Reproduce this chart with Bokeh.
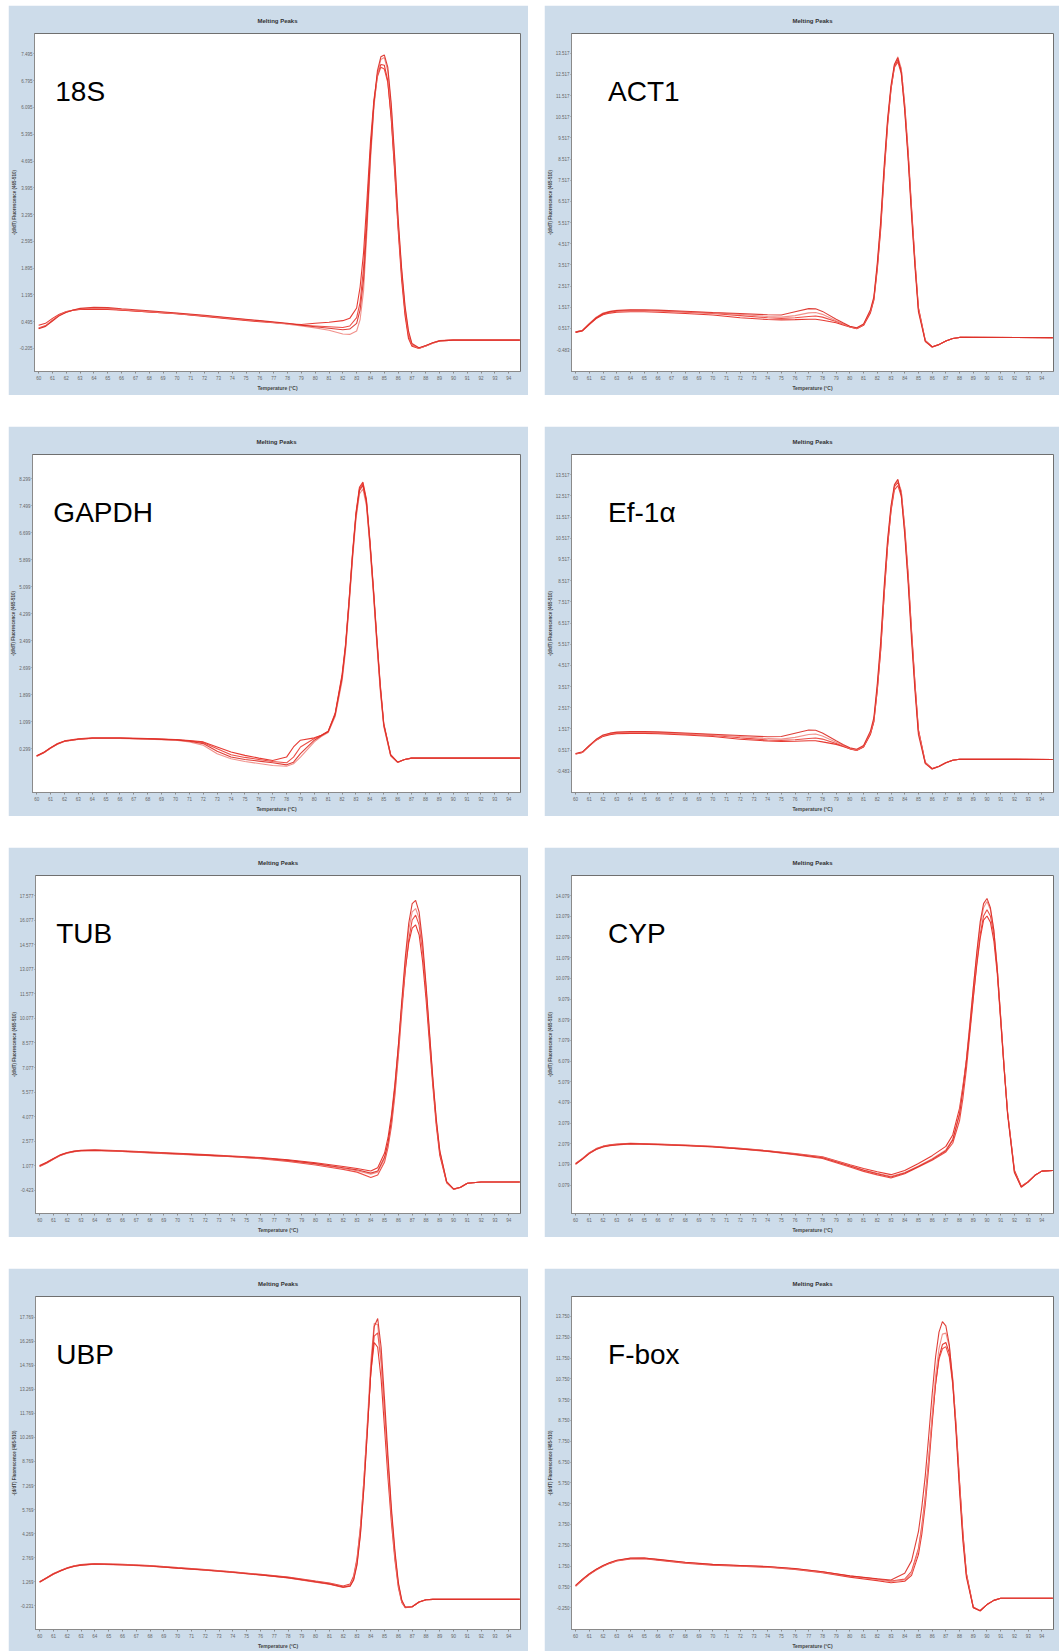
from bokeh.plotting import figure
from bokeh.layouts import column, row
from bokeh.models import FixedTicker, NumeralTickFormatter, Label, Range1d, Spacer
from bokeh.embed import file_html
from bokeh.resources import INLINE

x_ticks = list(range(60, 95))

# ---------------- 18S ----------------
t_18s = [60, 60.5, 61, 61.5, 62, 62.5, 63, 64, 65, 66, 68, 70, 72, 74, 76, 78, 79, 80, 81, 82, 82.5, 83,
         83.25, 83.5, 83.75, 84, 84.25, 84.5, 84.75, 85, 85.25, 85.5, 85.75, 86, 86.25, 86.5, 86.75, 87,
         87.5, 88, 88.5, 89, 90, 94.8]
r1_18s = [0.32, 0.38, 0.52, 0.66, 0.75, 0.80, 0.83, 0.85, 0.84, 0.81, 0.76, 0.71, 0.65, 0.58, 0.51, 0.43, 0.38,
          0.33, 0.27, 0.17, 0.16, 0.25, 0.55, 1.30, 2.90, 4.70, 6.10, 6.95, 7.35, 7.40, 7.05, 6.10, 4.70, 3.10,
          1.85, 0.85, 0.20, -0.10, -0.20, -0.14, -0.07, -0.01, 0.01, 0.01]
r2_18s = [0.40, 0.45, 0.58, 0.69, 0.76, 0.79, 0.81, 0.82, 0.81, 0.79, 0.75, 0.70, 0.63, 0.56, 0.49, 0.44, 0.42,
          0.45, 0.48, 0.52, 0.58, 0.85, 1.40, 2.30, 3.70, 5.20, 6.30, 6.95, 7.22, 7.20, 6.80, 5.80, 4.40, 2.90,
          1.60, 0.65, 0.05, -0.15, -0.21, -0.14, -0.06, 0.00, 0.01, 0.01]
r3_18s = [0.33, 0.39, 0.53, 0.67, 0.74, 0.79, 0.82, 0.84, 0.83, 0.80, 0.75, 0.70, 0.64, 0.57, 0.51, 0.44, 0.40,
          0.38, 0.36, 0.34, 0.38, 0.60, 1.00, 1.90, 3.40, 5.00, 6.20, 6.90, 7.15, 7.10, 6.75, 5.85, 4.50, 3.00,
          1.75, 0.75, 0.12, -0.12, -0.20, -0.14, -0.07, -0.01, 0.01, 0.01]
r4_18s = [0.31, 0.37, 0.51, 0.65, 0.74, 0.80, 0.84, 0.87, 0.86, 0.83, 0.78, 0.72, 0.66, 0.59, 0.52, 0.45, 0.40,
          0.36, 0.32, 0.28, 0.30, 0.45, 0.80, 1.60, 3.10, 4.85, 6.20, 7.05, 7.42, 7.47, 7.15, 6.20, 4.80, 3.20,
          1.90, 0.90, 0.25, -0.08, -0.19, -0.13, -0.06, -0.01, 0.01, 0.01]
yt_18s = [7.495, 6.795, 6.095, 5.395, 4.695, 3.995, 3.295, 2.595, 1.895, 1.195, 0.495, -0.205]

# ---------------- ACT1 ----------------
t_act = [60, 60.5, 61, 61.5, 62, 62.5, 63, 64, 65, 66, 68, 70, 72, 74, 75, 76, 77, 77.5, 78, 79, 79.5, 80,
         80.5, 81, 81.5, 81.75, 82, 82.25, 82.5, 82.75, 83, 83.25, 83.5, 83.75, 84, 84.25, 84.5, 84.75, 85,
         85.5, 86, 86.5, 87, 87.5, 88, 94.8]
r1_act = [0.34, 0.42, 0.73, 1.02, 1.22, 1.31, 1.36, 1.39, 1.40, 1.38, 1.33, 1.27, 1.22, 1.16, 1.15, 1.30, 1.45,
          1.44, 1.32, 0.95, 0.78, 0.62, 0.55, 0.72, 1.40, 2.00, 3.60, 5.60, 8.20, 10.40, 12.00, 13.00, 13.30,
          12.60, 10.80, 8.50, 5.80, 3.40, 1.30, -0.10, -0.36, -0.25, -0.08, 0.04, 0.09, 0.08]
r2_act = [0.33, 0.40, 0.70, 0.98, 1.16, 1.24, 1.28, 1.30, 1.30, 1.28, 1.22, 1.15, 1.02, 0.94, 0.92, 0.93, 0.95,
          0.95, 0.90, 0.78, 0.68, 0.58, 0.50, 0.66, 1.25, 1.85, 3.30, 5.20, 7.80, 10.10, 11.80, 12.90, 13.20,
          12.75, 11.10, 8.90, 6.20, 3.70, 1.50, -0.05, -0.35, -0.24, -0.08, 0.04, 0.09, 0.08]
r3_act = [0.36, 0.43, 0.75, 1.05, 1.24, 1.33, 1.37, 1.38, 1.37, 1.35, 1.30, 1.25, 1.18, 1.08, 1.05, 1.12, 1.25,
          1.27, 1.18, 0.88, 0.74, 0.60, 0.52, 0.70, 1.35, 1.95, 3.50, 5.50, 8.00, 10.30, 11.90, 12.95, 13.35,
          12.80, 11.00, 8.70, 6.00, 3.55, 1.40, -0.08, -0.37, -0.25, -0.08, 0.04, 0.09, 0.08]
r4_act = [0.35, 0.41, 0.72, 1.00, 1.20, 1.29, 1.33, 1.36, 1.36, 1.34, 1.28, 1.22, 1.12, 1.02, 0.99, 1.02, 1.08,
          1.10, 1.05, 0.84, 0.72, 0.59, 0.51, 0.69, 1.30, 1.90, 3.40, 5.35, 7.90, 10.20, 11.85, 12.85, 13.10,
          12.55, 10.90, 8.70, 6.10, 3.60, 1.45, -0.07, -0.36, -0.24, -0.08, 0.04, 0.09, 0.08]
yt_act = [13.517, 12.517, 11.517, 10.517, 9.517, 8.517, 7.517, 6.517, 5.517, 4.517, 3.517, 2.517, 1.517, 0.517, -0.483]

# ---------------- GAPDH ----------------
t_gap = [60, 60.5, 61, 61.5, 62, 63, 64, 66, 68, 70, 71, 72, 73, 74, 75, 76, 77, 78, 78.5, 79, 80, 80.5, 81,
         81.5, 82, 82.25, 82.5, 82.75, 83, 83.25, 83.5, 83.75, 84, 84.25, 84.5, 84.75, 85, 85.5, 86, 86.5, 87,
         88, 94.8]
r1_gap = [0.08, 0.18, 0.32, 0.44, 0.52, 0.58, 0.61, 0.61, 0.59, 0.56, 0.52, 0.45, 0.22, 0.05, -0.02, -0.07, -0.12,
          -0.18, -0.10, 0.15, 0.55, 0.68, 0.80, 1.30, 2.40, 3.30, 4.60, 6.00, 7.20, 7.95, 8.10, 7.60, 6.40, 5.00,
          3.50, 2.10, 1.00, 0.10, -0.10, -0.02, 0.02, 0.02, 0.02]
r2_gap = [0.09, 0.19, 0.33, 0.45, 0.53, 0.59, 0.62, 0.62, 0.60, 0.57, 0.54, 0.50, 0.35, 0.20, 0.10, 0.02, -0.05,
          0.05, 0.35, 0.55, 0.62, 0.70, 0.82, 1.35, 2.50, 3.40, 4.70, 6.10, 7.30, 8.05, 8.20, 7.70, 6.50, 5.10,
          3.60, 2.20, 1.05, 0.12, -0.10, -0.02, 0.02, 0.02, 0.02]
r3_gap = [0.07, 0.17, 0.31, 0.43, 0.51, 0.57, 0.60, 0.60, 0.58, 0.55, 0.50, 0.40, 0.15, 0.00, -0.08, -0.14, -0.20,
          -0.22, -0.15, 0.05, 0.50, 0.66, 0.78, 1.25, 2.30, 3.20, 4.50, 5.90, 7.10, 7.85, 8.00, 7.50, 6.30, 4.90,
          3.40, 2.00, 0.95, 0.08, -0.11, -0.02, 0.02, 0.02, 0.02]
r4_gap = [0.08, 0.18, 0.32, 0.44, 0.52, 0.58, 0.61, 0.61, 0.59, 0.56, 0.53, 0.48, 0.30, 0.12, 0.04, -0.02, -0.08,
          -0.12, 0.05, 0.35, 0.60, 0.69, 0.81, 1.32, 2.45, 3.35, 4.65, 6.05, 7.25, 8.00, 8.15, 7.65, 6.45, 5.05,
          3.55, 2.15, 1.02, 0.11, -0.10, -0.02, 0.02, 0.02, 0.02]
yt_gap = [8.299, 7.499, 6.699, 5.899, 5.099, 4.299, 3.499, 2.699, 1.899, 1.099, 0.299]

# ---------------- Ef-1alpha ----------------
t_ef = t_act
r1_ef = [0.36, 0.44, 0.74, 1.03, 1.23, 1.32, 1.37, 1.40, 1.40, 1.38, 1.33, 1.27, 1.21, 1.15, 1.16, 1.32, 1.47,
         1.46, 1.33, 0.96, 0.79, 0.63, 0.56, 0.74, 1.42, 2.05, 3.65, 5.65, 8.25, 10.45, 12.05, 13.05, 13.30,
         12.55, 10.70, 8.40, 5.70, 3.30, 1.25, -0.12, -0.37, -0.25, -0.08, 0.04, 0.09, 0.08]
r2_ef = [0.34, 0.41, 0.71, 0.99, 1.17, 1.25, 1.29, 1.31, 1.31, 1.29, 1.23, 1.16, 1.03, 0.95, 0.93, 0.94, 0.96,
         0.96, 0.91, 0.79, 0.69, 0.59, 0.51, 0.67, 1.27, 1.87, 3.35, 5.25, 7.85, 10.15, 11.85, 12.95, 13.15,
         12.70, 11.05, 8.85, 6.15, 3.65, 1.48, -0.06, -0.35, -0.24, -0.08, 0.04, 0.09, 0.08]
r3_ef = [0.35, 0.42, 0.73, 1.01, 1.21, 1.30, 1.35, 1.37, 1.37, 1.35, 1.30, 1.24, 1.16, 1.06, 1.04, 1.12, 1.26,
         1.28, 1.19, 0.89, 0.75, 0.61, 0.53, 0.71, 1.36, 1.97, 3.52, 5.52, 8.05, 10.35, 11.95, 12.98, 13.25,
         12.75, 10.95, 8.65, 5.95, 3.50, 1.38, -0.09, -0.37, -0.25, -0.08, 0.04, 0.09, 0.08]
r4_ef = [0.34, 0.41, 0.72, 1.00, 1.19, 1.28, 1.32, 1.35, 1.35, 1.33, 1.27, 1.21, 1.10, 1.00, 0.98, 1.01, 1.07,
         1.09, 1.04, 0.83, 0.71, 0.58, 0.50, 0.68, 1.28, 1.88, 3.38, 5.30, 7.85, 10.15, 11.80, 12.80, 13.00,
         12.50, 10.85, 8.65, 6.05, 3.60, 1.45, -0.07, -0.36, -0.24, -0.08, 0.04, 0.09, 0.08]
yt_ef = yt_act

# ---------------- TUB ----------------
t_tub = [60, 60.5, 61, 61.5, 62, 62.5, 63, 64, 66, 68, 70, 72, 74, 76, 78, 80, 82, 83, 84, 84.5, 85, 85.25, 85.5,
         85.75, 86, 86.25, 86.5, 86.75, 87, 87.25, 87.5, 87.75, 88, 88.25, 88.5, 88.75, 89, 89.5, 90, 90.5, 91,
         92, 94.8]
r1_tub = [1.05, 1.25, 1.50, 1.72, 1.86, 1.95, 2.00, 2.02, 1.96, 1.88, 1.80, 1.72, 1.64, 1.54, 1.40, 1.20, 0.95,
          0.82, 0.62, 0.75, 1.60, 2.50, 3.90, 5.90, 8.40, 11.20, 13.80, 15.90, 17.10, 17.30, 16.60, 14.80, 12.20,
          9.30, 6.40, 3.90, 2.00, 0.10, -0.35, -0.25, 0.00, 0.08, 0.08]
r2_tub = [1.02, 1.22, 1.47, 1.70, 1.84, 1.93, 1.98, 2.00, 1.94, 1.86, 1.78, 1.70, 1.62, 1.50, 1.34, 1.12, 0.85,
          0.68, 0.35, 0.50, 1.30, 2.20, 3.50, 5.40, 7.80, 10.50, 13.00, 14.90, 16.10, 16.40, 15.80, 14.20, 11.80,
          9.00, 6.20, 3.70, 1.90, 0.05, -0.38, -0.26, 0.00, 0.08, 0.08]
r3_tub = [1.08, 1.28, 1.52, 1.74, 1.88, 1.97, 2.02, 2.05, 1.99, 1.91, 1.83, 1.75, 1.67, 1.57, 1.44, 1.25, 1.02,
          0.90, 0.75, 0.95, 1.85, 2.80, 4.20, 6.10, 8.40, 10.90, 13.10, 14.70, 15.60, 15.80, 15.20, 13.60, 11.30,
          8.60, 5.90, 3.50, 1.70, 0.02, -0.36, -0.25, 0.00, 0.08, 0.08]
r4_tub = [1.04, 1.24, 1.49, 1.71, 1.85, 1.94, 1.99, 2.01, 1.95, 1.87, 1.79, 1.71, 1.63, 1.52, 1.38, 1.17, 0.90,
          0.76, 0.55, 0.68, 1.50, 2.40, 3.75, 5.70, 8.10, 10.90, 13.50, 15.50, 16.60, 16.80, 16.20, 14.50, 12.00,
          9.20, 6.30, 3.80, 1.95, 0.08, -0.36, -0.25, 0.00, 0.08, 0.08]
yt_tub = [17.577, 16.077, 14.577, 13.077, 11.577, 10.077, 8.577, 7.077, 5.577, 4.077, 2.577, 1.077, -0.423]

# ---------------- CYP ----------------
t_cyp = [60, 60.5, 61, 61.5, 62, 62.5, 63, 64, 66, 68, 70, 72, 74, 76, 78, 80, 81, 82, 83, 84, 85, 86, 87, 87.5,
         88, 88.25, 88.5, 88.75, 89, 89.25, 89.5, 89.75, 90, 90.25, 90.5, 90.75, 91, 91.25, 91.5, 92, 92.5, 93,
         93.5, 94, 94.8]
r1_cyp = [1.10, 1.35, 1.62, 1.82, 1.94, 2.00, 2.04, 2.09, 2.05, 2.00, 1.94, 1.84, 1.73, 1.58, 1.42, 1.02, 0.82,
          0.65, 0.50, 0.68, 1.00, 1.35, 1.78, 2.30, 3.60, 4.80, 6.20, 7.90, 9.60, 11.20, 12.60, 13.50, 13.80,
          13.40, 12.40, 10.60, 8.20, 5.80, 3.60, 0.70, -0.02, 0.23, 0.55, 0.75, 0.78]
r2_cyp = [1.08, 1.33, 1.60, 1.80, 1.92, 1.98, 2.02, 2.07, 2.03, 1.98, 1.92, 1.82, 1.70, 1.54, 1.36, 0.95, 0.74,
          0.57, 0.42, 0.62, 0.95, 1.28, 1.68, 2.10, 3.20, 4.30, 5.70, 7.40, 9.10, 10.80, 12.20, 13.10, 13.40,
          13.10, 12.20, 10.50, 8.20, 5.80, 3.60, 0.75, 0.00, 0.24, 0.55, 0.75, 0.78]
r3_cyp = [1.12, 1.37, 1.64, 1.84, 1.96, 2.02, 2.06, 2.10, 2.06, 2.01, 1.95, 1.85, 1.74, 1.60, 1.45, 1.06, 0.88,
          0.72, 0.58, 0.78, 1.12, 1.50, 1.95, 2.50, 3.80, 4.90, 6.10, 7.60, 9.20, 10.70, 12.00, 12.90, 13.10,
          12.80, 11.90, 10.30, 8.00, 5.70, 3.60, 0.80, 0.02, 0.24, 0.55, 0.75, 0.78]
r4_cyp = [1.09, 1.34, 1.61, 1.81, 1.93, 1.99, 2.03, 2.08, 2.04, 1.99, 1.93, 1.83, 1.72, 1.57, 1.40, 1.00, 0.79,
          0.62, 0.47, 0.66, 0.98, 1.32, 1.74, 2.25, 3.50, 4.70, 6.10, 7.80, 9.60, 11.30, 12.80, 13.70, 13.95,
          13.50, 12.40, 10.50, 8.10, 5.70, 3.50, 0.68, -0.03, 0.22, 0.55, 0.75, 0.78]
yt_cyp = [14.079, 13.079, 12.079, 11.079, 10.079, 9.079, 8.079, 7.079, 6.079, 5.079, 4.079, 3.079, 2.079, 1.079, 0.079]

# ---------------- UBP ----------------
t_ubp = [60, 60.5, 61, 61.5, 62, 62.5, 63, 64, 66, 68, 70, 72, 74, 76, 78, 80, 81, 82, 82.5, 82.75, 83, 83.25,
         83.5, 83.75, 84, 84.25, 84.5, 84.75, 85, 85.25, 85.5, 85.75, 86, 86.25, 86.5, 87, 87.5, 88, 88.5, 94.8]
r1_ubp = [1.25, 1.50, 1.75, 1.95, 2.12, 2.24, 2.31, 2.38, 2.33, 2.25, 2.12, 2.00, 1.86, 1.70, 1.53, 1.27, 1.15,
          0.95, 1.05, 1.50, 2.60, 4.60, 7.60, 11.20, 15.00, 17.40, 17.30, 15.20, 11.80, 8.40, 5.30, 2.80, 1.00,
          0.00, -0.35, -0.30, 0.00, 0.14, 0.16, 0.16]
r2_ubp = [1.23, 1.48, 1.73, 1.93, 2.10, 2.22, 2.29, 2.36, 2.31, 2.23, 2.10, 1.98, 1.84, 1.68, 1.50, 1.24, 1.10,
          0.90, 0.98, 1.40, 2.40, 4.30, 7.20, 10.70, 14.30, 16.60, 16.80, 15.00, 11.90, 8.60, 5.50, 3.00, 1.10,
          0.05, -0.33, -0.30, 0.00, 0.14, 0.16, 0.16]
r3_ubp = [1.27, 1.52, 1.77, 1.97, 2.14, 2.26, 2.33, 2.40, 2.35, 2.27, 2.14, 2.02, 1.88, 1.72, 1.55, 1.30, 1.18,
          1.00, 1.12, 1.60, 2.70, 4.70, 7.60, 11.00, 14.30, 16.20, 15.90, 13.90, 10.80, 7.70, 4.90, 2.60, 0.90,
          -0.05, -0.36, -0.30, 0.00, 0.14, 0.16, 0.16]
r4_ubp = [1.24, 1.49, 1.74, 1.94, 2.11, 2.23, 2.30, 2.37, 2.32, 2.24, 2.11, 1.99, 1.85, 1.69, 1.52, 1.26, 1.13,
          0.93, 1.00, 1.35, 2.30, 4.20, 7.10, 10.60, 14.40, 17.20, 17.70, 15.90, 12.60, 9.10, 5.80, 3.20, 1.20,
          0.10, -0.32, -0.30, 0.00, 0.14, 0.16, 0.16]
yt_ubp = [17.769, 16.269, 14.769, 13.269, 11.769, 10.269, 8.769, 7.269, 5.769, 4.269, 2.769, 1.269, -0.231]

# ---------------- F-box ----------------
t_fbx = [60, 60.5, 61, 61.5, 62, 62.5, 63, 64, 65, 66, 68, 70, 72, 74, 76, 78, 80, 82, 83, 84, 84.5, 85, 85.25,
         85.5, 85.75, 86, 86.25, 86.5, 86.75, 87, 87.25, 87.5, 87.75, 88, 88.25, 88.5, 89, 89.5, 90, 90.5, 91, 94.8]
r1_fbx = [0.80, 1.10, 1.36, 1.58, 1.76, 1.90, 2.01, 2.11, 2.12, 2.05, 1.91, 1.81, 1.76, 1.71, 1.61, 1.46, 1.26,
          1.10, 1.00, 1.08, 1.40, 2.50, 3.60, 5.00, 6.90, 9.00, 10.90, 12.20, 12.90, 12.95, 12.30, 10.80, 8.40,
          5.60, 3.10, 1.30, -0.25, -0.40, -0.10, 0.10, 0.20, 0.20]
r2_fbx = [0.82, 1.12, 1.38, 1.60, 1.78, 1.92, 2.03, 2.13, 2.14, 2.07, 1.93, 1.83, 1.78, 1.73, 1.63, 1.48, 1.28,
          1.14, 1.08, 1.40, 2.00, 3.40, 4.60, 6.10, 8.00, 10.00, 11.80, 13.00, 13.50, 13.30, 12.40, 10.60, 8.10,
          5.30, 2.90, 1.20, -0.25, -0.40, -0.10, 0.10, 0.20, 0.20]
r3_fbx = [0.78, 1.08, 1.34, 1.56, 1.74, 1.88, 1.99, 2.09, 2.10, 2.03, 1.89, 1.79, 1.74, 1.69, 1.59, 1.43, 1.22,
          1.05, 0.95, 1.02, 1.30, 2.30, 3.30, 4.70, 6.50, 8.60, 10.50, 11.80, 12.40, 12.50, 12.00, 10.70, 8.50,
          5.80, 3.30, 1.40, -0.22, -0.40, -0.10, 0.10, 0.20, 0.20]
r4_fbx = [0.81, 1.11, 1.37, 1.59, 1.77, 1.91, 2.02, 2.12, 2.13, 2.06, 1.92, 1.82, 1.77, 1.72, 1.62, 1.47, 1.27,
          1.12, 1.03, 1.12, 1.50, 2.60, 3.70, 5.10, 6.90, 8.80, 10.50, 11.70, 12.20, 12.30, 11.80, 10.50, 8.30,
          5.70, 3.20, 1.35, -0.24, -0.40, -0.10, 0.10, 0.20, 0.20]
yt_fbx = [13.750, 12.750, 11.750, 10.750, 9.750, 8.750, 7.750, 6.750, 5.750, 4.750, 3.750, 2.750, 1.750, 0.750, -0.250]

# y ranges (start, end) per panel
yr_18s = (-0.81, 8.03)
yr_act = (-1.52, 14.45)
yr_gap = (-1.00, 9.02)
yr_ef = (-1.48, 14.47)
yr_tub = (-1.85, 18.82)
yr_cyp = (-1.30, 15.06)
yr_ubp = (-1.72, 19.07)
yr_fbx = (-1.30, 14.71)

names = ["18S", "ACT1", "GAPDH", "Ef-1\u03b1", "TUB", "CYP", "UBP", "F-box"]

BG = "#cddcea"
LINE_COLORS = ["#e3231b", "#ea3a31", "#f0857e", "#dc2a22"]
X0, X1 = 59.7, 94.85
FONT = "Liberation Sans"


def make_panel(name, t, reps, yticks, yr, col, ph, bt, bb):
    w = 520 if col == 0 else 515
    bl = 21
    br = 8 if col == 0 else 6
    p = figure(width=w, height=ph, output_backend="svg", toolbar_location=None,
               x_range=Range1d(X0, X1), y_range=Range1d(*yr),
               title="Melting Peaks",
               min_border_left=bl, min_border_right=br, min_border_top=bt, min_border_bottom=bb)
    p.background_fill_color = "white"
    p.border_fill_color = BG
    p.outline_line_color = "#6f6f6f"
    p.outline_line_width = 1
    p.grid.visible = False

    p.title.align = "center"
    p.title.text_font = FONT
    p.title.text_font_size = "6px"
    p.title.text_font_style = "bold"
    p.title.text_color = "#333333"
    p.title.standoff = 20

    for ax in (p.xaxis[0], p.yaxis[0]):
        ax.axis_line_color = "#8a8a8a"
        ax.major_tick_line_color = "#8a8a8a"
        ax.minor_tick_line_color = None
        ax.major_tick_in = 0
        ax.major_tick_out = 2
        ax.major_label_text_font = FONT
        ax.major_label_text_font_size = "4.5px"
        ax.major_label_text_color = "#666666"
        ax.major_label_standoff = 2
        ax.axis_label_text_font = FONT
        ax.axis_label_text_font_size = "5px"
        ax.axis_label_text_font_style = "bold"
        ax.axis_label_text_color = "#444444"
        ax.axis_label_standoff = 2

    p.xaxis.ticker = FixedTicker(ticks=x_ticks)
    p.xaxis.axis_label = "Temperature (\u00b0C)"
    p.yaxis.ticker = FixedTicker(ticks=yticks)
    p.yaxis.formatter = NumeralTickFormatter(format="0.000")
    p.yaxis.axis_label = "-(d/dT) Fluorescence (465-510)"
    p.yaxis.major_tick_out = 1
    p.yaxis.major_label_standoff = 1
    p.yaxis.major_label_text_font_size = "4.5px"
    p.yaxis.axis_label_text_font_size = "4.5px"
    p.yaxis.axis_label_standoff = 0

    for i, r in enumerate(reps):
        p.line(t, r, line_color=LINE_COLORS[i % len(LINE_COLORS)], line_width=1.1, line_alpha=0.9)

    fw = w - bl - br
    fh = ph - bt - bb
    dx = 21 if col == 0 else 37
    lx = X0 + dx * (X1 - X0) / fw
    ly = yr[1] - 59 * (yr[1] - yr[0]) / fh
    p.add_layout(Label(x=lx, y=ly, text=name, text_font="Liberation Sans", text_font_size="28px",
                       text_color="black", text_baseline="alphabetic", text_align="left"))
    return p


PH, BT, BB = 390, 24, 24
PH4, BB4 = 383, 22
p1 = make_panel(names[0], t_18s, [r2_18s, r3_18s, r1_18s, r4_18s], yt_18s, yr_18s, 0, PH, BT, BB)
p2 = make_panel(names[1], t_act, [r2_act, r4_act, r3_act, r1_act], yt_act, yr_act, 1, PH, BT, BB)
p3 = make_panel(names[2], t_gap, [r2_gap, r4_gap, r3_gap, r1_gap], yt_gap, yr_gap, 0, PH, BT, BB)
p4 = make_panel(names[3], t_ef, [r2_ef, r4_ef, r3_ef, r1_ef], yt_ef, yr_ef, 1, PH, BT, BB)
p5 = make_panel(names[4], t_tub, [r3_tub, r2_tub, r4_tub, r1_tub], yt_tub, yr_tub, 0, PH, BT, BB)
p6 = make_panel(names[5], t_cyp, [r3_cyp, r2_cyp, r1_cyp, r4_cyp], yt_cyp, yr_cyp, 1, PH, BT, BB)
p7 = make_panel(names[6], t_ubp, [r3_ubp, r2_ubp, r1_ubp, r4_ubp], yt_ubp, yr_ubp, 0, PH4, BT, BB4)
p8 = make_panel(names[7], t_fbx, [r3_fbx, r4_fbx, r1_fbx, r2_fbx], yt_fbx, yr_fbx, 1, PH4, BT, BB4)

GAP_X = 16
GAP_Y = 31
rows = [Spacer(height=5)]
pairs = [(p1, p2), (p3, p4), (p5, p6), (p7, p8)]
for i, (a, b) in enumerate(pairs):
    rows.append(row(Spacer(width=8), a, Spacer(width=GAP_X), b))
    if i < 3:
        rows.append(Spacer(height=GAP_Y))
layout = column(*rows)

open("out.html", "w").write(file_html(layout, INLINE))
